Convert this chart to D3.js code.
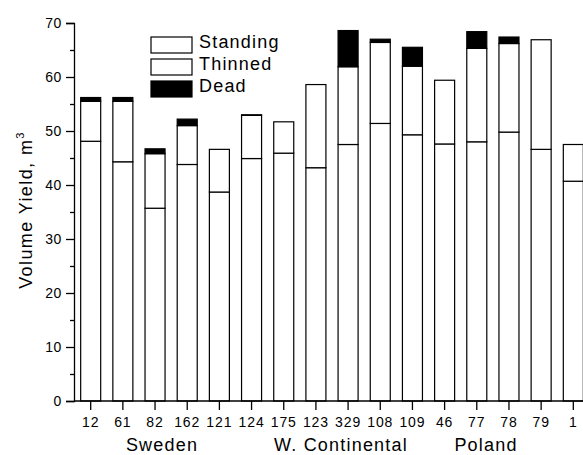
<!DOCTYPE html>
<html>
<head>
<meta charset="utf-8">
<script src="https://cdn.jsdelivr.net/npm/d3@7/dist/d3.min.js"></script>
<style>
  body { margin: 0; background: #fff; }
  svg { display: block; }
  text { font-family: "Liberation Sans", Arial, sans-serif; fill: #000; }
</style>
</head>
<body>
<script>
// stand ids along the x axis
const stands = ["12", "61", "82", "162", "121", "124", "175", "123", "329", "108", "109", "46", "77", "78", "79", "1"];

// volume yield, m3
const standing = [48.1, 44.3, 35.7, 43.8, 38.7, 44.9, 45.9, 43.2, 47.5, 51.4, 49.3, 47.6, 48.0, 49.8, 46.6, 40.7];
const thinned  = [7.4, 11.2, 10.1, 7.2, 7.9, 8.0, 5.8, 15.4, 14.4, 15.0, 12.7, 11.8, 17.3, 16.4, 20.3, 6.8];
const dead     = [0.7, 0.7, 0.9, 1.2, 0, 0.1, 0, 0, 6.7, 0.6, 3.5, 0, 3.1, 1.2, 0, 0];

const yTicks = [0, 10, 20, 30, 40, 50, 60, 70];
const yMinorTicks = [5, 15, 25, 35, 45, 55, 65];

const seriesKeys = ["Standing", "Thinned", "Dead"];
const seriesFill = { Standing: "#fff", Thinned: "#fff", Dead: "#000" };

const regions = ["Sweden", "W. Continental", "Poland"];

const width = 583, height = 455;

const svg = d3.select("body").append("svg")
    .attr("width", width)
    .attr("height", height);

const rows = stands.map((s, i) => ({
    stand: s,
    Standing: standing[i],
    Thinned: thinned[i],
    Dead: dead[i]
}));

const x = d3.scaleBand()
    .domain(stands)
    .range([74.6, 589.4])
    .paddingInner(0.378)
    .paddingOuter(0.189);

const y = d3.scaleLinear()
    .domain([0, 70])
    .range([401, 23]);

const stacked = d3.stack().keys(seriesKeys)(rows);

// bars
svg.append("g")
    .selectAll("g")
    .data(stacked)
    .join("g")
    .attr("fill", d => seriesFill[d.key])
    .selectAll("rect")
    .data(d => d.filter(p => p[1] - p[0] > 0))
    .join("rect")
    .attr("x", p => x(p.data.stand))
    .attr("width", x.bandwidth())
    .attr("y", p => y(p[1]))
    .attr("height", p => y(p[0]) - y(p[1]))
    .attr("stroke", "#000")
    .attr("stroke-width", 1.2);

// y axis
const yAxis = svg.append("g")
    .attr("transform", "translate(74,0)")
    .call(d3.axisLeft(y).tickValues(yTicks).tickSize(8).tickPadding(4).tickFormat(d3.format("d")));
yAxis.select(".domain").attr("stroke-width", 1.3);
yAxis.selectAll(".tick line").attr("stroke-width", 1.3);
yAxis.selectAll("text").attr("font-size", 14).attr("letter-spacing", 0.6)
    .style("font-family", "'Liberation Sans', Arial, sans-serif");

svg.append("g")
    .attr("transform", "translate(74,0)")
    .call(d3.axisLeft(y).tickValues(yMinorTicks).tickSize(4).tickFormat(""))
    .call(g => g.select(".domain").remove())
    .selectAll(".tick line").attr("stroke-width", 1.3);

// x axis
const xAxis = svg.append("g")
    .attr("transform", "translate(0,401)")
    .call(d3.axisBottom(x).tickSize(9).tickPadding(7).tickSizeOuter(0));
xAxis.select(".domain").attr("d", "M74,0H583").attr("stroke-width", 1.3);
xAxis.selectAll(".tick line").attr("stroke-width", 1.3);
xAxis.selectAll("text").attr("font-size", 14).attr("letter-spacing", 0.9)
    .style("font-family", "'Liberation Sans', Arial, sans-serif");

// region labels under the ticks
const regionX = [162, 341, 486];
svg.append("g")
    .selectAll("text")
    .data(regions)
    .join("text")
    .attr("x", (d, i) => regionX[i])
    .attr("y", 451)
    .attr("text-anchor", "middle")
    .attr("font-size", 18)
    .attr("letter-spacing", 1.2)
    .text(d => d);

// y axis title
const yTitle = svg.append("text")
    .attr("transform", "translate(32,210) rotate(-90)")
    .attr("text-anchor", "middle")
    .attr("font-size", 18)
    .attr("letter-spacing", 1.4);
yTitle.append("tspan").text("Volume Yield, m");
yTitle.append("tspan").attr("font-size", 11).attr("dy", -8).text("3");

// legend
const legend = svg.append("g")
    .selectAll("g")
    .data(seriesKeys)
    .join("g")
    .attr("transform", (d, i) => `translate(151,${37 + i * 22})`);
legend.append("rect")
    .attr("width", 41)
    .attr("height", 16)
    .attr("fill", d => seriesFill[d])
    .attr("stroke", "#000")
    .attr("stroke-width", 1.2);
legend.append("text")
    .attr("x", 48)
    .attr("y", 11)
    .attr("font-size", 18)
    .attr("letter-spacing", 1.2)
    .text(d => d);
</script>
</body>
</html>
